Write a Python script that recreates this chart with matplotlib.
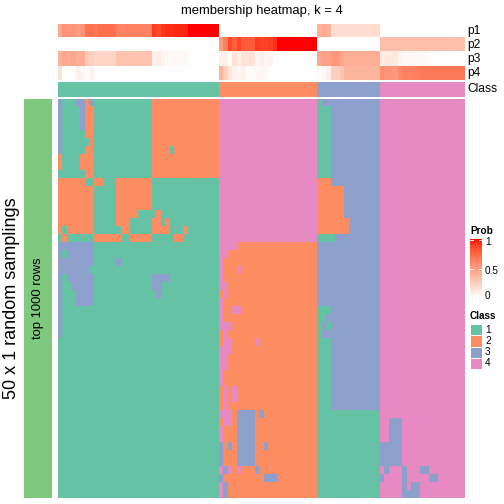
import numpy as np
import matplotlib
matplotlib.use("Agg")
import matplotlib.pyplot as plt
from matplotlib.colors import ListedColormap
from matplotlib.patches import Rectangle

plt.rcParams['font.family'] = ['Liberation Sans', 'DejaVu Sans']

W, H = 504, 504

CLASS_COLORS = ["#66C2A5", "#FC8D62", "#8DA0CB", "#E78AC3"]
ROW_BAR_COLOR = "#7FC97F"

# consensus class of each column (sample), in plotting order
class_sizes = [36, 22, 14, 19]
class_ids = [1, 2, 3, 4]

# membership probabilities per column
p1 = [0.45, 0.55, 0.53, 0.55, 0.50, 0.55, 0.70, 0.70, 0.68, 0.72, 0.72, 0.72, 0.72,
      0.63, 0.62, 0.63, 0.63, 0.64, 0.63, 0.63, 0.63,
      0.90, 0.86, 0.92, 0.94, 0.94, 0.95, 0.95, 0.95,
      1.0, 1.0, 1.0, 1.0, 1.0, 1.0, 1.0,
      0, 0, 0, 0, 0, 0, 0, 0, 0, 0, 0, 0, 0, 0, 0, 0, 0, 0, 0, 0, 0, 0,
      0.40, 0.43, 0.40, 0.18, 0.18, 0.18, 0.18, 0.18, 0.18, 0.18, 0.18, 0.18, 0.18, 0.18,
      0, 0, 0, 0, 0, 0, 0, 0, 0, 0, 0, 0, 0, 0, 0, 0, 0, 0, 0]
p2 = [0, 0, 0, 0, 0, 0, 0, 0, 0, 0, 0, 0, 0, 0, 0, 0, 0, 0,
      0, 0, 0, 0, 0, 0, 0, 0, 0, 0, 0, 0, 0, 0, 0, 0, 0, 0,
      0.50, 0.65, 0.86, 0.78, 0.88, 0.80, 0.80, 0.80, 0.90, 0.88, 0.88, 0.90, 0.93,
      1.0, 1.0, 1.0, 1.0, 1.0, 1.0, 1.0, 1.0, 1.0,
      0, 0, 0, 0, 0, 0, 0, 0, 0, 0, 0, 0, 0, 0,
      0.33, 0.33, 0.33, 0.33, 0.33, 0.33, 0.33, 0.33, 0.33, 0.33,
      0.33, 0.33, 0.33, 0.33, 0.33, 0.33, 0.33, 0.33, 0.33]
p3 = [0.40, 0.45, 0.42, 0.45, 0.40, 0.42, 0.28, 0.25, 0.22, 0.22, 0.22, 0.22, 0.22,
      0.32, 0.32, 0.32, 0.32, 0.32, 0.32, 0.32, 0.32,
      0.06, 0.10, 0.05, 0.03, 0.03, 0.03, 0.03, 0.03,
      0, 0, 0, 0, 0, 0, 0,
      0.08, 0.08, 0.02, 0.15, 0.10, 0.15, 0.15, 0.15, 0.05, 0.08, 0.05, 0.06,
      0, 0, 0, 0, 0, 0, 0, 0, 0, 0,
      0.45, 0.48, 0.47, 0.52, 0.52, 0.45, 0.42, 0.42, 0.42, 0.42, 0.42, 0.42, 0.42, 0.42,
      0.10, 0.12, 0.12, 0.12, 0.06, 0.04, 0.04, 0.03, 0.03, 0.03, 0.02,
      0, 0, 0, 0, 0, 0, 0, 0]
p4 = [0.15, 0, 0, 0, 0.08, 0.05, 0, 0.06, 0, 0, 0, 0, 0, 0, 0, 0, 0, 0,
      0, 0, 0, 0, 0, 0, 0, 0, 0, 0, 0, 0, 0, 0, 0, 0, 0, 0,
      0.38, 0.25, 0.13, 0.08, 0.05, 0.08, 0.02, 0.02, 0.03, 0.05, 0.03,
      0, 0, 0, 0, 0, 0, 0, 0, 0, 0, 0,
      0.02, 0.03, 0.08, 0.25, 0.25, 0.30, 0.38, 0.38, 0.38, 0.38, 0.38, 0.38, 0.38, 0.38,
      0.57, 0.55, 0.55, 0.52, 0.60, 0.63, 0.63, 0.64, 0.65, 0.67,
      0.67, 0.67, 0.67, 0.67, 0.67, 0.67, 0.67, 0.67, 0.67]

# class label of every column in each of the 50 samplings, run-length coded "class*count"
# blocks separated by | follow the consensus classes 1 | 2 | 3 | 4
samplings = [
    "3*1 1*3 3*2 2*1 3*1 1*13 2*15 | 4*22 | 1*1 3*13 | 4*19",
    "3*1 1*4 3*1 2*2 1*13 2*15 | 4*22 | 1*3 3*11 | 4*19",
    "3*1 1*4 3*1 2*2 1*13 2*15 | 4*22 | 1*3 3*11 | 4*19",
    "3*1 1*4 3*1 2*2 1*13 2*15 | 4*22 | 1*3 3*11 | 4*19",
    "3*1 1*5 2*2 1*13 2*15 | 4*22 | 1*3 3*11 | 4*19",
    "3*1 1*6 2*1 1*13 2*15 | 4*22 | 1*3 3*11 | 4*19",
    "3*1 1*5 2*2 1*13 2*4 1*1 2*10 | 4*22 | 1*3 3*11 | 4*19",
    "2*1 1*4 2*3 1*13 2*15 | 4*22 | 1*3 3*11 | 4*19",
    "2*1 1*4 2*3 1*13 2*15 | 4*22 | 1*3 3*11 | 4*19",
    "1*6 2*2 1*13 2*15 | 4*22 | 1*3 3*11 | 4*19",
    "2*6 1*2 2*2 1*3 2*8 1*15 | 4*22 | 2*3 3*11 | 4*19",
    "2*8 1*5 2*8 1*15 | 4*22 | 2*6 3*8 | 4*19",
    "2*8 1*5 2*8 1*15 | 4*22 | 2*6 3*8 | 4*19",
    "2*8 1*5 2*8 1*15 | 4*22 | 2*6 3*8 | 4*19",
    "2*8 1*5 2*5 1*4 2*1 1*13 | 4*22 | 2*6 3*8 | 4*19",
    "2*8 1*5 2*3 1*5 2*2 1*1 2*1 1*11 | 4*22 | 2*7 3*7 | 4*19",
    "2*1 1*1 2*6 1*6 2*2 1*5 2*4 1*3 2*1 1*7 | 4*22 | 2*7 3*7 | 4*19",
    "1*1 2*1 1*6 2*6 1*2 2*5 1*5 2*2 1*8 | 4*22 | 1*4 3*10 | 4*19",
    "3*8 1*28 | 4*4 2*18 | 3*14 | 4*19",
    "3*1 1*1 3*6 1*28 | 4*2 2*20 | 3*14 | 4*19",
    "3*8 1*5 3*1 1*22 | 4*1 2*21 | 3*14 | 4*19",
    "3*7 1*29 | 4*1 2*3 4*1 2*17 | 3*14 | 4*19",
    "3*1 1*1 3*6 1*13 3*4 1*11 | 4*1 2*21 | 3*14 | 4*19",
    "3*1 1*2 3*5 1*13 3*2 1*13 | 4*2 2*20 | 3*14 | 4*19",
    "3*1 1*3 3*4 1*14 3*1 1*13 | 2*1 4*1 2*20 | 3*14 | 4*19",
    "3*1 1*3 3*4 1*28 | 4*1 2*21 | 3*14 | 4*19",
    "3*1 1*35 | 4*1 2*2 4*2 2*17 | 1*3 3*11 | 4*19",
    "3*1 1*35 | 4*1 2*21 | 1*2 3*12 | 4*19",
    "3*1 1*35 | 4*3 2*19 | 1*1 3*1 1*1 3*11 | 4*19",
    "3*1 1*35 | 2*1 4*1 2*20 | 1*1 3*13 | 4*19",
    "1*36 | 2*1 4*2 2*5 4*1 2*13 | 1*3 3*11 | 4*19",
    "1*36 | 4*3 2*19 | 1*3 3*11 | 4*19",
    "1*36 | 4*2 2*20 | 1*3 3*11 | 4*19",
    "1*36 | 4*2 2*20 | 1*3 3*11 | 4*19",
    "1*36 | 4*1 2*21 | 1*3 3*11 | 4*19",
    "1*36 | 4*1 2*21 | 1*3 3*11 | 4*19",
    "1*36 | 2*1 4*1 2*1 4*1 2*18 | 1*3 3*11 | 4*19",
    "1*36 | 2*1 4*1 2*1 4*1 2*18 | 1*3 3*11 | 4*19",
    "1*36 | 2*1 4*1 2*20 | 1*3 3*11 | 4*19",
    "1*36 | 4*3 2*1 3*4 2*1 3*1 2*12 | 1*14 | 4*19",
    "1*36 | 2*1 4*2 2*1 3*4 2*14 | 1*14 | 4*2 3*3 4*14",
    "1*36 | 4*1 2*3 3*4 2*14 | 1*14 | 4*2 3*3 4*14",
    "1*36 | 4*1 2*3 3*4 2*14 | 1*14 | 4*2 3*3 4*14",
    "1*36 | 3*1 2*1 3*1 2*1 3*4 2*2 3*1 2*11 | 1*14 | 3*5 4*14",
    "1*36 | 3*1 2*3 3*4 2*14 | 1*14 | 3*5 4*14",
    "1*36 | 3*1 2*3 3*4 2*14 | 1*14 | 3*5 4*14",
    "1*36 | 4*1 3*1 4*1 2*1 4*1 2*3 3*1 2*13 | 1*14 | 4*1 3*1 4*3 3*1 4*3 3*2 4*8",
    "1*36 | 3*1 2*9 3*3 2*9 | 1*14 | 3*1 4*4 3*1 4*5 3*2 4*6",
    "1*36 | 4*1 3*1 2*20 | 1*14 | 4*5 3*1 4*1 3*2 4*10",
    "1*36 | 4*1 3*1 2*20 | 1*14 | 4*5 3*4 4*10",
]


def parse_runs(s):
    out = []
    for tok in s.replace("|", " ").split():
        v, n = tok.split("*")
        out += [int(v)] * int(n)
    return out


# white -> red ramp interpolated in LAB space (like colorRamp2)
M = np.array([[0.4124, 0.3576, 0.1805],
              [0.2126, 0.7152, 0.0722],
              [0.0193, 0.1192, 0.9505]])
WREF = np.array([0.95047, 1.0, 1.08883])


def to_lab(rgb):
    rgb = np.asarray(rgb, float)
    lin = np.where(rgb <= 0.04045, rgb / 12.92, ((rgb + 0.055) / 1.055) ** 2.4)
    xyz = lin @ M.T / WREF
    f = np.where(xyz > 0.008856, np.cbrt(xyz), 7.787 * xyz + 16 / 116)
    return np.stack([116 * f[..., 1] - 16, 500 * (f[..., 0] - f[..., 1]),
                     200 * (f[..., 1] - f[..., 2])], axis=-1)


def from_lab(lab):
    fy = (lab[..., 0] + 16) / 116
    f = np.stack([fy + lab[..., 1] / 500, fy, fy - lab[..., 2] / 200], axis=-1)
    xyz = np.where(f ** 3 > 0.008856, f ** 3, (f - 16 / 116) / 7.787) * WREF
    lin = xyz @ np.linalg.inv(M).T
    lin = np.clip(lin, 0, 1)
    rgb = np.where(lin <= 0.0031308, 12.92 * lin, 1.055 * lin ** (1 / 2.4) - 0.055)
    return np.clip(rgb, 0, 1)


t = np.linspace(0, 1, 256)[:, None]
ramp = from_lab(to_lab([1, 1, 1]) * (1 - t) + to_lab([1, 0, 0]) * t)
prob_cmap = ListedColormap(ramp)
class_cmap = ListedColormap(CLASS_COLORS)

grid = np.array([parse_runs(r) for r in samplings])
col_class = np.repeat(class_ids, class_sizes)
probs = np.array([p1, p2, p3, p4])

fig = plt.figure(figsize=(W / 72, H / 72), dpi=72)


def box(x0, y0, x1, y1):
    a = fig.add_axes([x0 / W, 1 - y1 / H, (x1 - x0) / W, (y1 - y0) / H])
    a.set_axis_off()
    return a


# top annotation: membership probabilities and class
ax_p = box(58, 24, 465, 80.3)
ax_p.imshow(probs, cmap=prob_cmap, vmin=0, vmax=1, aspect='auto', interpolation='nearest')
ax_c = box(58, 81.7, 465, 96.7)
ax_c.imshow(col_class[None, :], cmap=class_cmap, vmin=0.5, vmax=4.5, aspect='auto',
            interpolation='nearest')

for name, yc in zip(["p1", "p2", "p3", "p4", "Class"], [31, 45, 59, 73, 89]):
    fig.text(467 / W, 1 - yc / H, name, ha='left', va='center', fontsize=12)

# main body
ax = box(58, 98.7, 465, 498)
ax.imshow(grid, cmap=class_cmap, vmin=0.5, vmax=4.5, aspect='auto', interpolation='nearest')

# left annotation bar
ax_l = box(24, 98.7, 52, 498)
ax_l.add_patch(Rectangle((0, 0), 1, 1, color=ROW_BAR_COLOR))
ax_l.set_xlim(0, 1)
ax_l.set_ylim(0, 1)
ax_l.text(0.5, 0.5, "top 1000 rows", rotation=90, ha='center', va='center', fontsize=13)

fig.text(12 / W, 1 - 298 / H, "50 x 1 random samplings", rotation=90,
         ha='center', va='center', fontsize=18)
fig.text(261.5 / W, 1 - 11 / H, "membership heatmap, k = 4", ha='center', va='center',
         fontsize=13)

# Prob legend
fig.text(470 / W, 1 - 231.5 / H, "Prob", ha='left', va='center', fontsize=10, fontweight='bold')
ax_g = box(470, 239, 482, 298)
ax_g.imshow(np.linspace(1, 0, 200)[:, None], cmap=prob_cmap, vmin=0, vmax=1,
            aspect='auto', extent=[0, 1, 0, 1])
ax_g.set_xlim(0, 1)
ax_g.set_ylim(0, 1)
for v in [1.0, 0.5]:
    yy = min(v, 0.985)
    ax_g.plot([0, 0.22], [yy, yy], color='white', lw=1)
    ax_g.plot([0.78, 1], [yy, yy], color='white', lw=1)
for lab, yc in [("1", 242), ("0.5", 270.5), ("0", 296)]:
    fig.text(485 / W, 1 - yc / H, lab, ha='left', va='center', fontsize=10)

# Class legend
fig.text(470 / W, 1 - 316 / H, "Class", ha='left', va='center', fontsize=10, fontweight='bold')
ax_k = box(470, 324.3, 481.5, 369)
ax_k.set_xlim(0, 1)
ax_k.set_ylim(4, 0)
for i, c in enumerate(CLASS_COLORS):
    ax_k.add_patch(Rectangle((0, i), 1, 1, facecolor=c, edgecolor='white', lw=1))
    fig.text(485 / W, 1 - (324.3 + 11.2 * (i + 0.5)) / H, str(class_ids[i]),
             ha='left', va='center', fontsize=10)

fig.savefig("out.png", dpi=72)
